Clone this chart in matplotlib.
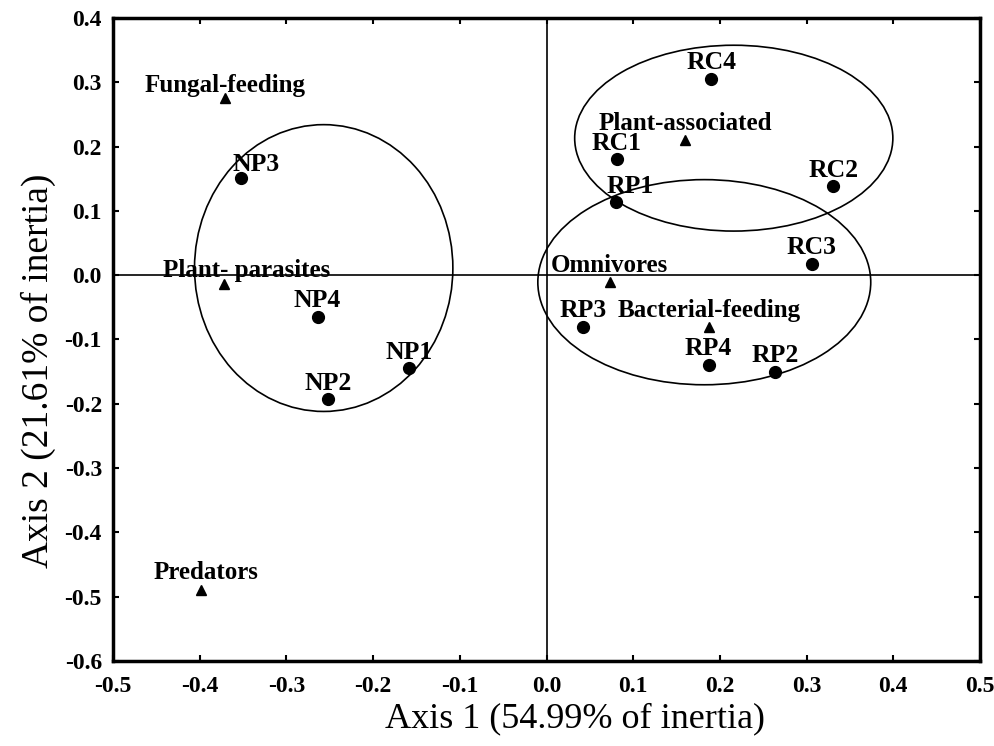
import numpy as np
import matplotlib.pyplot as plt
from matplotlib.patches import Ellipse

# sites (circles)
site_names = ['NP1', 'NP2', 'NP3', 'NP4', 'RC1', 'RC2', 'RC3', 'RC4',
              'RP1', 'RP2', 'RP3', 'RP4']
site_x = [-0.159, -0.252, -0.352, -0.264, 0.081, 0.331, 0.306, 0.190,
          0.080, 0.264, 0.042, 0.187]
site_y = [-0.145, -0.193, 0.151, -0.065, 0.180, 0.138, 0.018, 0.305,
          0.114, -0.150, -0.081, -0.139]

# trophic groups (triangles)
group_names = ['Fungal-feeding', 'Plant- parasites', 'Predators',
               'Plant-associated', 'Omnivores', 'Bacterial-feeding']
group_x = [-0.371, -0.372, -0.398, 0.160, 0.073, 0.188]
group_y = [0.275, -0.014, -0.490, 0.210, -0.011, -0.081]

# grouping ellipses: centre x, centre y, width, height
ell_cx = [-0.257, 0.216, 0.182]
ell_cy = [0.011, 0.213, -0.011]
ell_w = [0.298, 0.367, 0.384]
ell_h = [0.446, 0.289, 0.319]

# label offsets in points (dx, dy) relative to the marker
site_off = {'NP3': (11, 5), 'RP1': (10, 6)}
group_off = {'Plant- parasites': (16, 5), 'Fungal-feeding': (0, 4.5),
             'Predators': (3, 8)}

plt.rcParams['font.family'] = ['Liberation Serif', 'DejaVu Serif']

fig = plt.figure(figsize=(9.94, 7.46), dpi=100)
ax = fig.add_axes([0.1137, 0.114, 0.8722, 0.862])

ax.axhline(0, color='black', lw=1.2, zorder=1)
ax.axvline(0, color='black', lw=1.2, zorder=1)

for cx, cy, w, h in zip(ell_cx, ell_cy, ell_w, ell_h):
    ax.add_patch(Ellipse((cx, cy), w, h, fill=False, ec='black', lw=1.2, zorder=2))

ax.plot(site_x, site_y, 'o', color='black', ms=8.5, zorder=3)
ax.plot(group_x, group_y, '^', color='black', ms=7, zorder=3)

for name, x, y in zip(site_names, site_x, site_y):
    dx, dy = site_off.get(name, (0, 7))
    ax.annotate(name, (x, y), xytext=(dx, dy), textcoords='offset points',
                ha='center', va='baseline', fontsize=18.5, fontweight='bold')

for name, x, y in zip(group_names, group_x, group_y):
    dx, dy = group_off.get(name, (0, 7))
    ax.annotate(name, (x, y), xytext=(dx, dy), textcoords='offset points',
                ha='center', va='baseline', fontsize=18, fontweight='bold')

ax.set_xlim(-0.5, 0.5)
ax.set_ylim(-0.6, 0.4)
ax.set_xticks(np.arange(-0.5, 0.51, 0.1))
ax.set_yticks(np.arange(-0.6, 0.41, 0.1))
fmt = plt.FuncFormatter(lambda v, p: f'{v:.1f}'.replace('-0.0', '0.0'))
ax.xaxis.set_major_formatter(fmt)
ax.yaxis.set_major_formatter(fmt)
ax.tick_params(direction='in', top=True, right=True, length=4, width=1.5,
               labelsize=17)
ax.tick_params(axis='x', pad=11)
ax.tick_params(axis='y', pad=8)
for lab in ax.get_xticklabels() + ax.get_yticklabels():
    lab.set_fontweight('bold')
for s in ax.spines.values():
    s.set_linewidth(2.5)

ax.set_xlabel('Axis 1 (54.99% of inertia)', fontsize=26, x=0.533, labelpad=4)
ax.set_ylabel('Axis 2 (21.61% of inertia)', fontsize=27, y=0.451, labelpad=6)

fig.savefig('out.png', dpi=100)
